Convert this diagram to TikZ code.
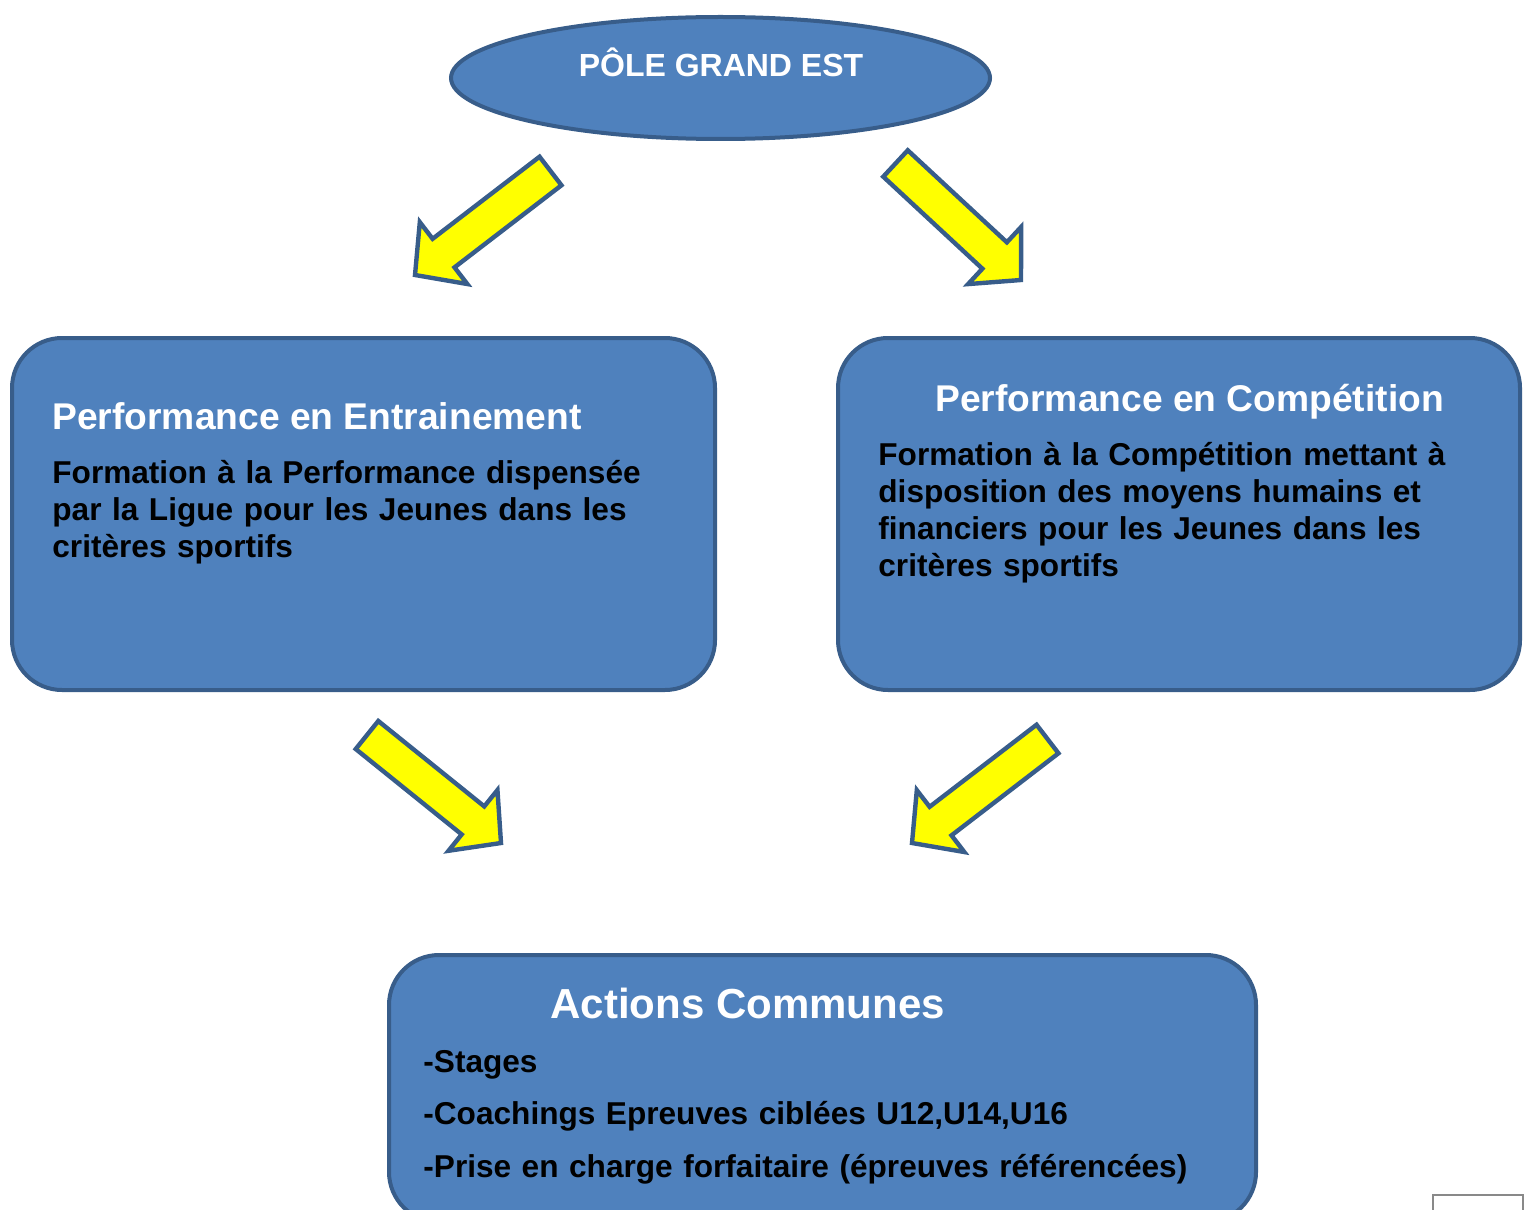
\documentclass[tikz,border=0pt]{standalone}
\usepackage{fontspec}
\setmainfont{Liberation Sans}
\definecolor{poleblue}{RGB}{79,129,189}
\definecolor{poleborder}{RGB}{56,93,138}
\definecolor{arrowyellow}{RGB}{255,255,0}
\definecolor{framegray}{RGB}{137,137,137}
\usetikzlibrary{calc,shapes.geometric}

\tikzset{
  bluebox/.style={fill=poleblue,draw=poleborder,line width=2pt,rounded corners=25pt},
  boxtitle/.style={anchor=base west,inner sep=0pt,font=\fontsize{18.6}{22}\selectfont\bfseries\color{white}},
  boxbody/.style={anchor=base west,inner sep=0pt,text width=330pt,align=left,
    font=\fontsize{15.8}{18.5}\selectfont\bfseries},
  yellowarrow/.style={fill=arrowyellow,draw=poleborder,line width=2.2pt,line join=miter}
}
% block arrow from tail #1 to tip #2
\newcommand{\blockarrow}[2]{%
  \coordinate (hb) at ($(#2)!18pt!(#1)$);
  \draw[yellowarrow] ($(#1)!9pt!90:(#2)$) -- ($(hb)!9pt!90:(#2)$) -- ($(hb)!19.5pt!90:(#2)$)
    -- (#2) -- ($(hb)!19.5pt!-90:(#2)$) -- ($(hb)!9pt!-90:(#2)$) -- ($(#1)!9pt!-90:(#2)$) -- cycle;
}

\begin{document}
\begin{tikzpicture}[x=0.5pt,y=-0.5pt]
  \useasboundingbox (0,0) rectangle (1529,1209);
  \clip (0,0) rectangle (1529,1209);

  % top ellipse
  \node[ellipse,fill=poleblue,draw=poleborder,line width=2pt,inner sep=0pt,
        minimum width=269.5pt,minimum height=61pt] (pole) at (720.5,78) {};
  \node[anchor=base,inner sep=0pt,font=\fontsize{16}{19}\selectfont\bfseries\color{white}]
    (poletitle) at (721,77) {PÔLE GRAND EST};

  % the two boxes
  \node[bluebox,minimum width=351.5pt,minimum height=176pt] (train) at (363.5,514) {};
  \node[boxtitle] (traintitle) at (52,429) {Performance en Entrainement};
  \node[boxbody] (traintext) at (52,483)
    {Formation à la Performance dispensée\\par la Ligue pour les Jeunes dans les\\critères sportifs};

  \node[bluebox,minimum width=341pt,minimum height=176pt] (compet) at (1179,514) {};
  \node[boxtitle] (compettitle) at (935,411) {Performance en Compétition};
  \node[boxbody] (compettext) at (878,465)
    {Formation à la Compétition mettant à\\disposition des moyens humains et\\financiers pour les Jeunes dans les\\critères sportifs};

  % common actions
  \node[bluebox,minimum width=433.5pt,minimum height=133.5pt] (common) at (822.5,1088.5) {};
  \node[anchor=base west,inner sep=0pt,font=\fontsize{21}{25}\selectfont\bfseries\color{white}]
    (commontitle) at (550,1018) {Actions Communes};
  \node[boxbody,text width=420pt,font=\fontsize{15.8}{26.3}\selectfont\bfseries] (commonlist) at (423,1072)
    {-Stages\\-Coachings Epreuves ciblées U12,U14,U16\\-Prise en charge forfaitaire (épreuves référencées)};

  \node[draw=framegray,line width=1pt,inner sep=0pt,anchor=north west,
        minimum width=45pt,minimum height=30pt] (pagebox) at (1432,1194) {};

  % arrows
  \coordinate (a1t) at (550.5,171);  \coordinate (a1h) at (415,275);
  \coordinate (a2t) at (895.5,163.5); \coordinate (a2h) at (1021,280);
  \coordinate (a3t) at (367,735);    \coordinate (a3h) at (501,843);
  \coordinate (a4t) at (1047.5,739); \coordinate (a4h) at (912,843);
  \blockarrow{a1t}{a1h}
  \blockarrow{a2t}{a2h}
  \blockarrow{a3t}{a3h}
  \blockarrow{a4t}{a4h}
\end{tikzpicture}
\end{document}
